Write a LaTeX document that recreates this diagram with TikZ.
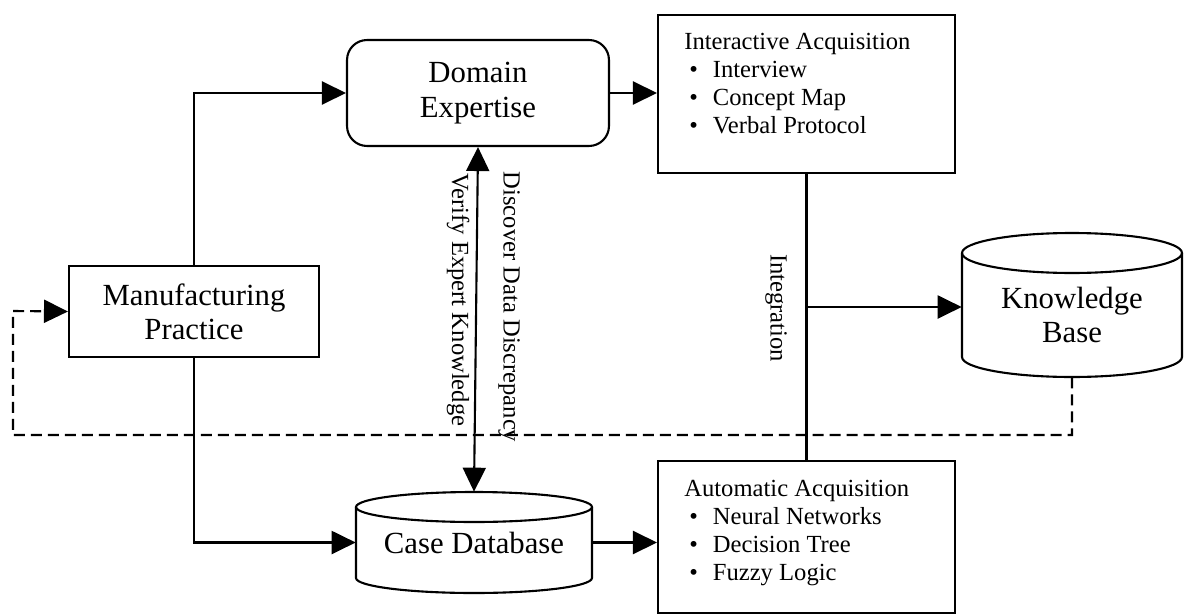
\documentclass[tikz,border=0pt]{standalone}
\usepackage{fontspec}
\setmainfont{Liberation Serif}
\usepackage{tikz}
\usetikzlibrary{arrows.meta}
\definecolor{ink}{HTML}{000000}
\tikzset{
  bigLab/.style={text=ink, font=\fontsize{17.5}{19.5}\selectfont, align=center},
  smallLab/.style={text=ink, font=\fontsize{14}{15.9}\selectfont, align=left, inner sep=0pt},
  shapeLine/.style={line width=1.2pt, draw=ink},
  boxNode/.style={shapeLine, rectangle, inner sep=0pt},
  tip/.style={-{Triangle[length=0.48cm,width=0.46cm]}},
  flow/.style={shapeLine, tip},
  twoWay/.style={shapeLine, {Triangle[length=0.48cm,width=0.46cm]}-{Triangle[length=0.48cm,width=0.46cm]}},
  feedback/.style={flow, dash pattern=on 0.22cm off 0.12cm}
}

\begin{document}
\begin{tikzpicture}[x=0.02cm, y=-0.02cm]
  \useasboundingbox (0,0) rectangle (1185,615);

  % boxes
  \node[boxNode, bigLab, minimum width=5cm, minimum height=1.82cm] (mfg) at (194,311.5) {Manufacturing\\Practice};
  \node[boxNode, bigLab, rounded corners=0.4cm, minimum width=5.24cm, minimum height=2.12cm] (domain) at (478,93) {Domain\\Expertise};
  \node[boxNode, minimum width=5.94cm, minimum height=3.16cm] (inter) at (806.5,94) {};
  \node[boxNode, minimum width=5.94cm, minimum height=3.04cm] (auto) at (806.5,537) {};

  \node[smallLab, anchor=north west, xshift=0.54cm, yshift=-0.38cm] (interList) at (inter.north west)
    {Interactive Acquisition\\
     \hspace*{0.1cm}\textbullet\hspace{0.3cm}Interview\\
     \hspace*{0.1cm}\textbullet\hspace{0.3cm}Concept Map\\
     \hspace*{0.1cm}\textbullet\hspace{0.3cm}Verbal Protocol};
  \node[smallLab, anchor=north west, xshift=0.54cm, yshift=-0.4cm] (autoList) at (auto.north west)
    {Automatic Acquisition\\
     \hspace*{0.1cm}\textbullet\hspace{0.3cm}Neural Networks\\
     \hspace*{0.1cm}\textbullet\hspace{0.3cm}Decision Tree\\
     \hspace*{0.1cm}\textbullet\hspace{0.3cm}Fuzzy Logic};

  % cylinders
  \draw[shapeLine] (356,507) -- (356,578) arc[start angle=180, end angle=360, x radius=2.36cm, y radius=0.3cm] -- (592,507);
  \draw[shapeLine] (474,507) ellipse [x radius=2.36cm, y radius=0.3cm];
  \node[bigLab, minimum width=4.72cm, minimum height=2.02cm, inner sep=0pt] (casedb) at (474,542.5) {Case Database};

  \draw[shapeLine] (962,253) -- (962,357) arc[start angle=180, end angle=360, x radius=2.2cm, y radius=0.4cm] -- (1182,253);
  \draw[shapeLine] (1072,253) ellipse [x radius=2.2cm, y radius=0.4cm];
  \node[bigLab, minimum width=4.4cm, minimum height=2.48cm, inner sep=0pt] (kb) at (1072,315) {Knowledge\\Base};

  % connectors
  \draw[flow] (mfg.north) |- (domain.west);
  \draw[flow] (mfg.south) |- (casedb.west);
  \draw[flow] (domain.east) -- (domain.east -| inter.west);
  \draw[flow] (casedb.east) -- (casedb.east -| auto.west);
  \draw[twoWay] (domain.south) -- (casedb.north);

  \draw[shapeLine] (inter.south) -- (auto.north);
  \coordinate (merge) at (806.5,307);
  \draw[flow] (merge) -- (merge -| kb.west);

  \draw[feedback] (kb.south) -- (1072,435) -| (13,311) -- (mfg.west);

  % rotated labels
  \node[smallLab, rotate=-90] (verify) at (458,300) {Verify Expert Knowledge};
  \node[smallLab, rotate=-90] (discover) at (509,307) {Discover Data Discrepancy};
  \node[smallLab, rotate=-90] (integ) at (776,308) {Integration};
\end{tikzpicture}
\end{document}
